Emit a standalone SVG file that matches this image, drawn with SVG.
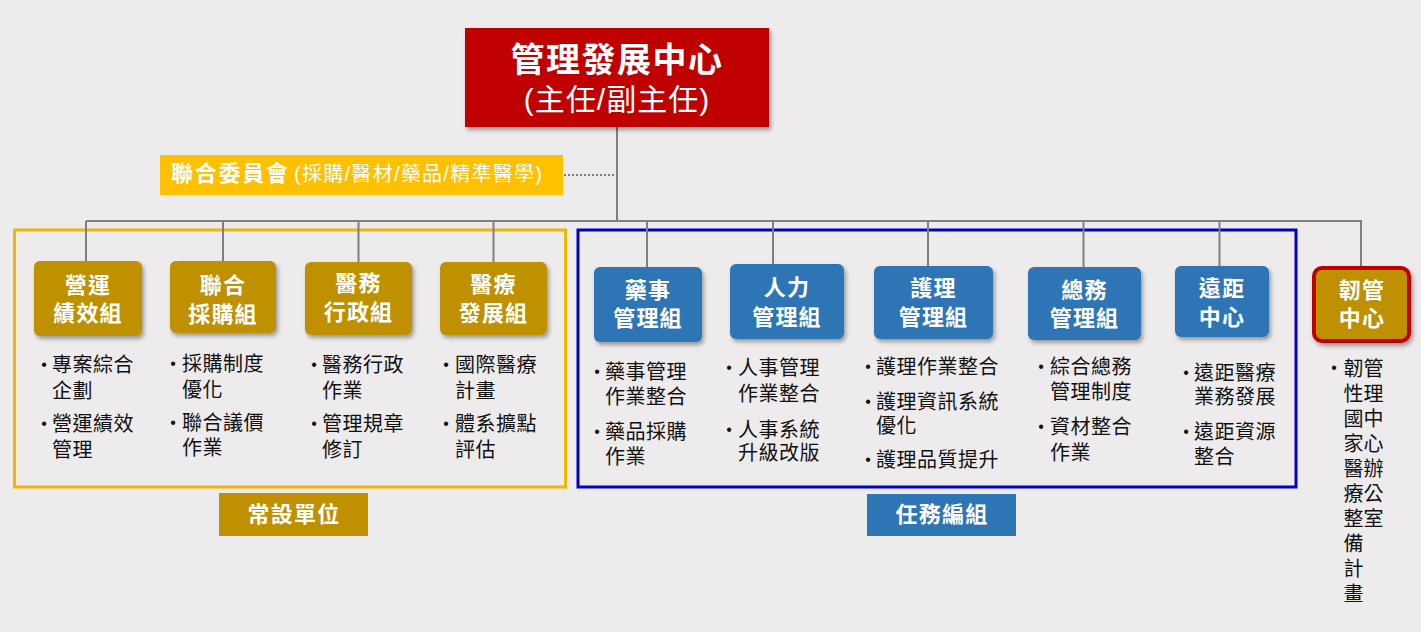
<svg xmlns="http://www.w3.org/2000/svg" width="1421" height="632" viewBox="0 0 1421 632">
<defs>
<filter id="sh" x="-10%" y="-10%" width="130%" height="140%">
<feDropShadow dx="2" dy="3" stdDeviation="2" flood-color="#000" flood-opacity="0.35"/>
</filter>
<style>
text{font-family:"Liberation Sans","Noto Sans CJK TC","Noto Sans CJK SC",sans-serif;}
.ln{stroke:#7F7F7F;stroke-width:2;fill:none;}
.dot{stroke:#7F7F7F;stroke-width:2;stroke-dasharray:2 2;fill:none;}
.gold{fill:#BF9000;}
.blue{fill:#2E75B6;}
.bt{font-size:22px;font-weight:bold;fill:#fff;text-anchor:middle;letter-spacing:1.2px;}
.it{font-size:20px;fill:#111;letter-spacing:0.5px;}
.bu{font-size:16px;fill:#111;text-anchor:middle;}
</style>
</defs>
<rect width="1421" height="632" fill="#EDEBEC"/>

<g id="frames">
<rect x="14.5" y="230" width="551" height="257" fill="none" stroke="#F2B600" stroke-width="3"/>
<rect x="578" y="230" width="718" height="257" fill="none" stroke="#0000CD" stroke-width="3"/>
</g>

<g id="connectors">
<line class="ln" x1="617" y1="127" x2="617" y2="221"/>
<line class="dot" x1="564" y1="175" x2="616" y2="175"/>
<line class="ln" x1="86" y1="221" x2="1361" y2="221"/>
<line class="ln" x1="1361" y1="220" x2="1361" y2="267"/>
<line class="ln" x1="86" y1="221" x2="86" y2="261"/>
<line class="ln" x1="223" y1="221" x2="223" y2="261"/>
<line class="ln" x1="358.5" y1="221" x2="358.5" y2="262"/>
<line class="ln" x1="493.5" y1="221" x2="493.5" y2="262"/>
<line class="ln" x1="647" y1="221" x2="647" y2="267"/>
<line class="ln" x1="773" y1="221" x2="773" y2="264"/>
<line class="ln" x1="928" y1="221" x2="928" y2="266"/>
<line class="ln" x1="1083.5" y1="221" x2="1083.5" y2="267"/>
<line class="ln" x1="1219.5" y1="221" x2="1219.5" y2="266"/>
</g>

<g id="n-top">
<rect x="465" y="28" width="304" height="99" fill="#C00000" filter="url(#sh)"/>
<text x="617" y="72" text-anchor="middle" font-size="34" font-weight="bold" fill="#fff" letter-spacing="1.5">管理發展中心</text>
<text x="617" y="110" text-anchor="middle" font-size="30" fill="#fff" letter-spacing="1">(主任/副主任)</text>
</g>

<g id="n-committee">
<rect x="160" y="155" width="403" height="40" fill="#FFC000"/>
<text x="171" y="181" font-size="22" font-weight="bold" fill="#fff" textLength="117" lengthAdjust="spacing">聯合委員會</text>
<text x="294" y="181" font-size="20" fill="#fff" textLength="248" lengthAdjust="spacing">(採購/醫材/藥品/精準醫學)</text>
</g>

<g id="n-yingyun">
<rect class="gold" x="34" y="261" width="108" height="75" rx="6" filter="url(#sh)"/>
<text class="bt" x="88" y="293">營運</text>
<text class="bt" x="88" y="321">績效組</text>
<text class="bu" x="44" y="370">•</text>
<text class="it" x="52" y="372">專案綜合<tspan x="52" y="398">企劃</tspan></text>
<text class="bu" x="44" y="429">•</text>
<text class="it" x="52" y="431">營運績效<tspan x="52" y="457">管理</tspan></text>
</g>

<g id="n-lianhe">
<rect class="gold" x="170" y="261" width="106" height="72" rx="6" filter="url(#sh)"/>
<text class="bt" x="223" y="293">聯合</text>
<text class="bt" x="223" y="322">採購組</text>
<text class="bu" x="173" y="369">•</text>
<text class="it" x="182" y="371">採購制度<tspan x="182" y="397">優化</tspan></text>
<text class="bu" x="173" y="428">•</text>
<text class="it" x="182" y="430">聯合議價<tspan x="182" y="455">作業</tspan></text>
</g>

<g id="n-yiwu">
<rect class="gold" x="305" y="262" width="107" height="73" rx="6" filter="url(#sh)"/>
<text class="bt" x="358.5" y="291">醫務</text>
<text class="bt" x="358.5" y="320">行政組</text>
<text class="bu" x="314" y="370">•</text>
<text class="it" x="322" y="372">醫務行政<tspan x="322" y="398">作業</tspan></text>
<text class="bu" x="314" y="429">•</text>
<text class="it" x="322" y="431">管理規章<tspan x="322" y="457">修訂</tspan></text>
</g>

<g id="n-yiliao">
<rect class="gold" x="440" y="262" width="107" height="73" rx="6" filter="url(#sh)"/>
<text class="bt" x="493.5" y="292">醫療</text>
<text class="bt" x="493.5" y="321">發展組</text>
<text class="bu" x="446" y="370">•</text>
<text class="it" x="455" y="372">國際醫療<tspan x="455" y="398">計畫</tspan></text>
<text class="bu" x="446" y="429">•</text>
<text class="it" x="455" y="431">體系擴點<tspan x="455" y="457">評估</tspan></text>
</g>

<g id="n-yaoshi">
<rect class="blue" x="594" y="267" width="108" height="75" rx="6" filter="url(#sh)"/>
<text class="bt" x="648" y="298">藥事</text>
<text class="bt" x="648" y="326">管理組</text>
<text class="bu" x="597" y="377">•</text>
<text class="it" x="605" y="379">藥事管理<tspan x="605" y="404">作業整合</tspan></text>
<text class="bu" x="597" y="437">•</text>
<text class="it" x="605" y="439">藥品採購<tspan x="605" y="464">作業</tspan></text>
</g>

<g id="n-renli">
<rect class="blue" x="730" y="264" width="114" height="75" rx="6" filter="url(#sh)"/>
<text class="bt" x="787" y="295">人力</text>
<text class="bt" x="787" y="325">管理組</text>
<text class="bu" x="729" y="373">•</text>
<text class="it" x="738" y="375">人事管理<tspan x="738" y="401">作業整合</tspan></text>
<text class="bu" x="729" y="435">•</text>
<text class="it" x="738" y="437">人事系統<tspan x="738" y="460">升級改版</tspan></text>
</g>

<g id="n-huli">
<rect class="blue" x="874" y="266" width="119" height="73" rx="6" filter="url(#sh)"/>
<text class="bt" x="933.5" y="296">護理</text>
<text class="bt" x="933.5" y="325">管理組</text>
<text class="bu" x="868" y="372">•</text>
<text class="it" x="876" y="374">護理作業整合</text>
<text class="bu" x="868" y="407">•</text>
<text class="it" x="876" y="409">護理資訊系統<tspan x="876" y="433">優化</tspan></text>
<text class="bu" x="868" y="465">•</text>
<text class="it" x="876" y="467">護理品質提升</text>
</g>

<g id="n-zongwu">
<rect class="blue" x="1028" y="267" width="113" height="73" rx="6" filter="url(#sh)"/>
<text class="bt" x="1084.5" y="298">總務</text>
<text class="bt" x="1084.5" y="326">管理組</text>
<text class="bu" x="1041" y="372">•</text>
<text class="it" x="1050" y="374">綜合總務<tspan x="1050" y="399">管理制度</tspan></text>
<text class="bu" x="1041" y="432">•</text>
<text class="it" x="1050" y="434">資材整合<tspan x="1050" y="460">作業</tspan></text>
</g>

<g id="n-yuanju">
<rect class="blue" x="1175" y="266" width="94" height="71" rx="6" filter="url(#sh)"/>
<text class="bt" x="1222" y="296">遠距</text>
<text class="bt" x="1222" y="325">中心</text>
<text class="bu" x="1186" y="378">•</text>
<text class="it" x="1194" y="380">遠距醫療<tspan x="1194" y="404">業務發展</tspan></text>
<text class="bu" x="1186" y="437">•</text>
<text class="it" x="1194" y="439">遠距資源<tspan x="1194" y="464">整合</tspan></text>
</g>

<g id="n-renguan">
<rect class="gold" x="1314" y="268" width="95" height="73" rx="8" stroke="#C00000" stroke-width="4" filter="url(#sh)"/>
<text class="bt" x="1362" y="298">韌管</text>
<text class="bt" x="1362" y="326">中心</text>
<text class="bu" x="1334" y="373">•</text>
<text x="1352" y="358" font-size="20" fill="#111" writing-mode="vertical-rl" letter-spacing="5">韌性國家醫療整備計畫</text>
<text x="1372" y="358" font-size="20" fill="#111" writing-mode="vertical-rl" letter-spacing="5">管理中心辦公室</text>
</g>

<g id="n-label-standing">
<rect class="gold" x="219" y="493" width="149" height="43"/>
<text class="bt" x="294" y="522">常設單位</text>
</g>

<g id="n-label-task">
<rect class="blue" x="867" y="494" width="149" height="42"/>
<text class="bt" x="942" y="522">任務編組</text>
</g>
</svg>
